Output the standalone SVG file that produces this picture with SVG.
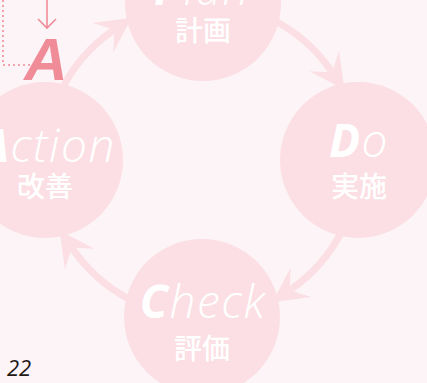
<svg xmlns="http://www.w3.org/2000/svg" width="427" height="383" viewBox="0 0 427 383">
<style>
.node{fill:#fbdfe4}
.ring{fill:none;stroke:#fbdfe4;stroke-width:7}
.en{font-family:"Open Sans","Liberation Sans",sans-serif;font-style:italic;font-weight:300;font-size:46px;fill:#ffffff;text-anchor:middle;letter-spacing:1.5px}
.en .b{font-weight:700}
.jp{font-family:"Noto Sans CJK JP","Noto Sans",sans-serif;font-weight:500;font-size:28px;fill:#ffffff;text-anchor:middle}
.pink{fill:#f08c98}
.pinkline{fill:none;stroke:#f08c98;stroke-width:1.6}
</style>
<defs>
<marker id="ah" markerUnits="userSpaceOnUse" viewBox="-12 -20 40 40" refX="0" refY="0" markerWidth="40" markerHeight="40" orient="auto">
<path d="M24,0 L-11,-18 Q-3,-8 0,-3.5 L0,3.5 Q-3,8 -11,18 Z" fill="#fbdfe4"/>
</marker>
</defs>
<rect width="427" height="383" fill="#fcf4f7"/>
<g id="connectors">
<path class="ring" d="M45,160 A157,157 0 0 1 111.95,31.4" marker-end="url(#ah)"/>
<path class="ring" d="M202,3 A157,157 0 0 1 330.6,69.95" marker-end="url(#ah)"/>
<path class="ring" d="M359,160 A157,157 0 0 1 292.05,288.6" marker-end="url(#ah)"/>
<path class="ring" d="M202,317 A157,157 0 0 1 73.4,250.05" marker-end="url(#ah)"/>
</g>
<g id="plan">
<circle class="node" cx="203" cy="3" r="78"/>
<text class="en" x="202" y="5"><tspan class="b">P</tspan>lan</text>
<text class="jp" x="203" y="41">計画</text>
</g>
<g id="do">
<circle class="node" cx="358" cy="160" r="78"/>
<text class="en" x="359" y="157"><tspan class="b">D</tspan>o</text>
<text class="jp" x="359" y="197">実施</text>
</g>
<g id="check">
<circle class="node" cx="202" cy="317" r="78"/>
<text class="en" x="203" y="318"><tspan class="b">C</tspan>heck</text>
<text class="jp" x="202" y="359">評価</text>
</g>
<g id="action">
<circle class="node" cx="45" cy="160" r="78"/>
<text class="en" x="48" y="162"><tspan class="b">A</tspan>ction</text>
<text class="jp" x="45" y="197">改善</text>
</g>
<g id="marker-a">
<path class="pinkline" stroke-dasharray="2 3" d="M3,0 V65 H30"/>
<path class="pinkline" d="M47,0 V28 M38,19 L47,28 L56,19"/>
<text x="46" y="80" text-anchor="middle" font-family="Liberation Sans, Arial, sans-serif" font-weight="700" font-style="italic" font-size="60" class="pink">A</text>
</g>
<text x="7" y="376" font-family="Open Sans, Liberation Sans, sans-serif" font-style="italic" font-size="22" fill="#231815">22</text>
</svg>
